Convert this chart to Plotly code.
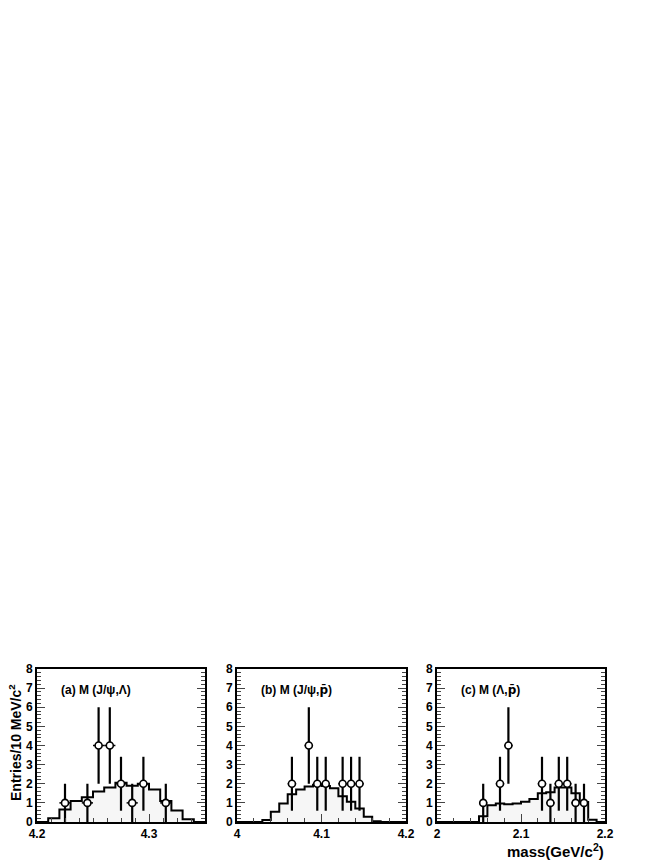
import plotly.graph_objects as go

# panel (a): M(J/psi, Lambda)
a_edges = [4.20, 4.21, 4.22, 4.23, 4.24, 4.25, 4.26, 4.27, 4.28, 4.29, 4.30, 4.31, 4.32, 4.33, 4.34, 4.35]
a_mc = [0, 0.2, 0.65, 1.1, 1.3, 1.6, 1.8, 2.05, 1.9, 2.0, 1.7, 1.1, 0.6, 0.15, 0]
a_x = [4.225, 4.245, 4.255, 4.265, 4.275, 4.285, 4.295, 4.315]
a_n = [1, 1, 4, 4, 2, 1, 2, 1]
a_err = [1, 1, 2, 2, 1.41, 1, 1.41, 1]

# panel (b): M(J/psi, pbar)
b_edges = [4.00, 4.01, 4.02, 4.03, 4.04, 4.05, 4.06, 4.07, 4.08, 4.09, 4.10, 4.11, 4.12,
           4.13, 4.14, 4.15, 4.16, 4.17, 4.18, 4.19, 4.20]
b_mc = [0, 0, 0, 0.1, 0.53, 0.97, 1.45, 1.7, 1.85, 1.95, 1.88, 1.77, 1.35, 1.06, 0.7, 0.27, 0.04, 0, 0, 0]
b_x = [4.065, 4.085, 4.095, 4.105, 4.125, 4.135, 4.145]
b_n = [2, 4, 2, 2, 2, 2, 2]
b_err = [1.41, 2, 1.41, 1.41, 1.41, 1.41, 1.41]

# panel (c): M(Lambda, pbar)
c_edges = [2.00, 2.01, 2.02, 2.03, 2.04, 2.05, 2.06, 2.07, 2.08, 2.09, 2.10, 2.11, 2.12,
           2.13, 2.14, 2.15, 2.16, 2.17, 2.18, 2.19, 2.20]
c_mc = [0, 0, 0, 0, 0, 0.3, 0.88, 0.97, 0.93, 0.97, 1.06, 1.2, 1.5, 1.55, 1.8, 1.8, 1.5, 1.05, 0.12, 0]
c_x = [2.055, 2.075, 2.085, 2.125, 2.135, 2.145, 2.155, 2.165, 2.175]
c_n = [1, 2, 4, 2, 1, 2, 2, 1, 1]
c_err = [1, 1.41, 2, 1.41, 1, 1.41, 1.41, 1, 1]

pbar = "<span style='font-family:DejaVu Sans'>p̄</span>"
panels = [
    (a_edges, a_mc, a_x, a_n, a_err, [4.2, 4.35], [4.2, 4.3], ["4.2", "4.3"], 0.0125, "(a) M (J/ψ,Λ)"),
    (b_edges, b_mc, b_x, b_n, b_err, [4.0, 4.2], [4.0, 4.1, 4.2], ["4", "4.1", "4.2"], 0.02, "(b) M (J/ψ," + pbar + ")"),
    (c_edges, c_mc, c_x, c_n, c_err, [2.0, 2.2], [2.0, 2.1, 2.2], ["2", "2.1", "2.2"], 0.02, "(c) M (Λ," + pbar + ")"),
]

W, H = 664, 860
OFF = 8  # page body margin
def fx(p):
    return (p - OFF) / W
def fy(p):
    return (H - (p - OFF)) / H

px_dom = [(37, 205), (237, 406), (437, 605)]
y_dom = [fy(822), fy(669)]

fnt = dict(family="Liberation Sans, Arial, sans-serif", color="black")

fig = go.Figure()
for i, (edges, mc, xs, ns, errs, xr, tv, tt, minor_dt, label) in enumerate(panels):
    k = "" if i == 0 else str(i + 1)
    fig.add_trace(go.Scatter(
        x=edges, y=mc + [mc[-1]], mode="lines", line=dict(shape="hv", color="black", width=2),
        fill="tozeroy", fillcolor="#f6f6f6", xaxis="x" + k, yaxis="y" + k, showlegend=False,
        hoverinfo="skip"))
    fig.add_trace(go.Scatter(
        x=xs, y=ns, mode="markers",
        marker=dict(symbol="circle", size=7, color="white", line=dict(color="black", width=1.6)),
        error_y=dict(type="data", array=errs, color="black", thickness=2.2, width=0),
        error_x=dict(type="constant", value=0.005, color="black", thickness=1.5, width=0),
        xaxis="x" + k, yaxis="y" + k, showlegend=False))
    l, r = px_dom[i]
    fig.update_layout({
        "xaxis" + k: dict(domain=[fx(l), fx(r)], range=xr, anchor="y" + k,
                          tickvals=tv, ticktext=tt, ticks="inside", ticklen=8, tickwidth=1.2,
                          minor=dict(dtick=minor_dt, tick0=xr[0], ticks="inside", ticklen=4, tickwidth=1),
                          showline=True, linecolor="black", linewidth=2, mirror=True,
                          showgrid=False, zeroline=False, automargin=False,
                          tickfont=dict(size=12, weight="bold", **fnt)),
        "yaxis" + k: dict(domain=y_dom, range=[0, 8], anchor="x" + k, dtick=1,
                          ticks="inside", ticklen=8, tickwidth=1.2,
                          minor=dict(dtick=0.2, ticks="inside", ticklen=4, tickwidth=1),
                          showline=True, linecolor="black", linewidth=2, mirror="ticks",
                          showgrid=False, zeroline=False, automargin=False,
                          tickfont=dict(size=12, weight="bold", **fnt)),
    })
    fig.add_annotation(x=fx(l + 22), y=fy(690), xref="paper", yref="paper",
                       text=label, showarrow=False, xanchor="left", yanchor="middle",
                       font=dict(size=12, weight="bold", **fnt))

fig.add_annotation(x=fx(15), y=fy(743), xref="paper", yref="paper",
                   text="Entries/10 MeV/c<sup>2</sup>", textangle=-90, showarrow=False,
                   xanchor="center", yanchor="middle", font=dict(size=14, weight="bold", **fnt))
fig.add_annotation(x=fx(606), y=fy(850), xref="paper", yref="paper",
                   text="mass(GeV/c<sup>2</sup>)", showarrow=False,
                   xanchor="right", yanchor="middle", font=dict(size=15, weight="bold", **fnt))

fig.update_layout(width=W, height=H, margin=dict(l=0, r=0, t=0, b=0),
                  paper_bgcolor="white", plot_bgcolor="white")

fig.write_html("out.html")
